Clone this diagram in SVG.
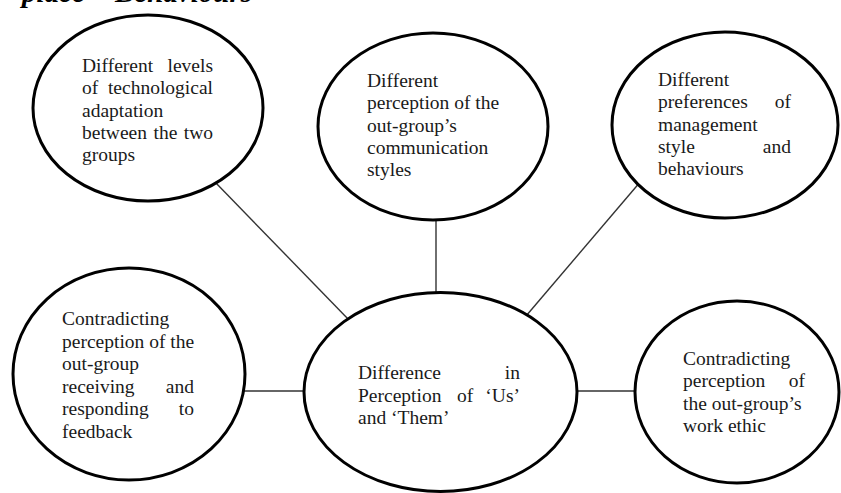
<svg xmlns="http://www.w3.org/2000/svg" width="841" height="493" viewBox="0 0 841 493">
<style>
.bg{fill:#ffffff}
.node{fill:#ffffff;stroke:#000000;stroke-width:3}
.conn{stroke:#333333;stroke-width:1.4;fill:none}
.t{font-family:"Liberation Serif","Times New Roman",serif;font-size:19.5px;fill:#1a1a1a}
.e{text-anchor:end}
.m{text-anchor:middle}
.title{font-family:"Liberation Serif","Times New Roman",serif;font-size:29px;font-weight:bold;font-style:italic;fill:#000000}
</style>
<rect class="bg" x="0" y="0" width="841" height="493"/>
<g id="title">
<text class="title" x="22" y="2">place</text>
<text class="title e" x="252" y="2">Behaviours</text>
</g>
<g id="connectors">
<line class="conn" x1="215" y1="182" x2="349" y2="320"/>
<line class="conn" x1="436" y1="215" x2="436" y2="296"/>
<line class="conn" x1="641" y1="181" x2="526" y2="316"/>
<line class="conn" x1="240" y1="391" x2="308" y2="391"/>
<line class="conn" x1="573" y1="391" x2="638" y2="391"/>
</g>
<g id="node-tech">
<ellipse class="node" cx="148" cy="108" rx="115" ry="93"/>
<text class="t" x="82" y="72">Different</text><text class="t e" x="213" y="72">levels</text>
<text class="t" x="82" y="94.3">of</text><text class="t e" x="213" y="94.3">technological</text>
<text class="t" x="82" y="116.6">adaptation</text>
<text class="t" x="82" y="138.9">between</text><text class="t m" x="165.5" y="138.9">the</text><text class="t e" x="213" y="138.9">two</text>
<text class="t" x="82" y="161.2">groups</text>
</g>
<g id="node-comm">
<ellipse class="node" cx="433" cy="126.5" rx="115" ry="93.5"/>
<text class="t" x="367" y="87">Different</text>
<text class="t" x="367" y="109.3">perception of the</text>
<text class="t" x="367" y="131.6">out-group’s</text>
<text class="t" x="367" y="153.9">communication</text>
<text class="t" x="367" y="176.2">styles</text>
</g>
<g id="node-mgmt">
<ellipse class="node" cx="725" cy="125" rx="113" ry="93"/>
<text class="t" x="658" y="86">Different</text>
<text class="t" x="658" y="108.3">preferences</text><text class="t e" x="791" y="108.3">of</text>
<text class="t" x="658" y="130.6">management</text>
<text class="t" x="658" y="152.9">style</text><text class="t e" x="791" y="152.9">and</text>
<text class="t" x="658" y="175.2">behaviours</text>
</g>
<g id="node-feedback">
<ellipse class="node" cx="129" cy="374" rx="116" ry="106"/>
<text class="t" x="62" y="325">Contradicting</text>
<text class="t" x="62" y="347.5">perception of the</text>
<text class="t" x="62" y="370">out-group</text>
<text class="t" x="62" y="392.5">receiving</text><text class="t e" x="194" y="392.5">and</text>
<text class="t" x="62" y="415">responding</text><text class="t e" x="194" y="415">to</text>
<text class="t" x="62" y="437.5">feedback</text>
</g>
<g id="node-center">
<ellipse class="node" cx="440.5" cy="392" rx="136.5" ry="99.5"/>
<text class="t" x="358" y="379.3">Difference</text><text class="t e" x="520" y="379.3">in</text>
<text class="t" x="358" y="401.8">Perception</text><text class="t m" x="465" y="401.8">of</text><text class="t e" x="520" y="401.8">‘Us’</text>
<text class="t" x="358" y="424.3">and ‘Them’</text>
</g>
<g id="node-ethic">
<ellipse class="node" cx="737" cy="392" rx="102" ry="91"/>
<text class="t" x="683" y="365">Contradicting</text>
<text class="t" x="683" y="387.3">perception</text><text class="t e" x="805" y="387.3">of</text>
<text class="t" x="683" y="409.6">the out-group’s</text>
<text class="t" x="683" y="431.9">work ethic</text>
</g>
</svg>
